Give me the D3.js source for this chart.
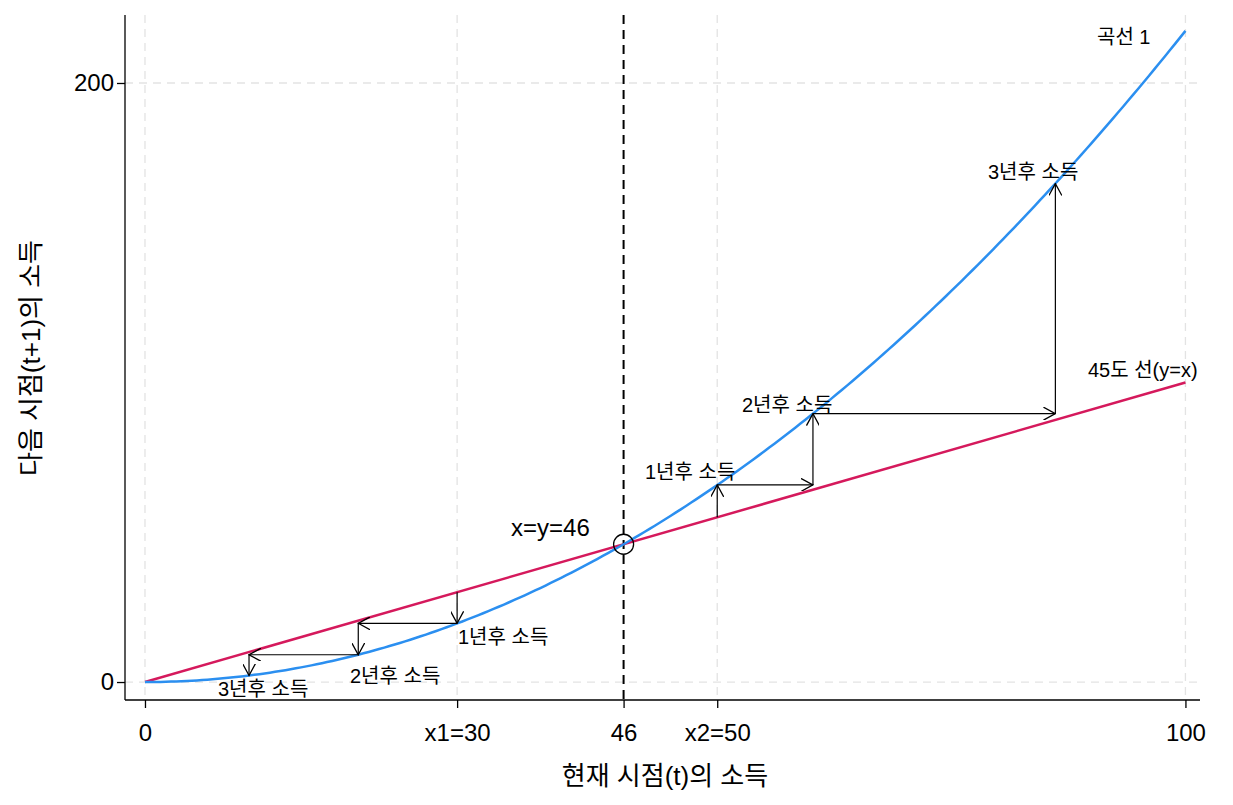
<!DOCTYPE html><html><head><meta charset="utf-8">
<script src="https://cdn.jsdelivr.net/npm/d3@7"></script>
<style>body{margin:0;background:#fff}text{font-family:Arial,"Liberation Sans","Noto Sans CJK KR",sans-serif}</style>
</head><body><svg id="c" width="1233" height="805"></svg><script>
const xTicks=[0,30,46,55,100];
const xTickLabels=["0","x1=30","46","x2=50","100"];
const yTicks=[0,200];
const curveK=46; // curve y = x^2/46
const lowPath=[[30,30],[30,19.6],[20.5,19.6],[20.5,9.1],[10,9.1],[10,2.2]];
const highPath=[[55,55],[55,65.8],[64.2,65.8],[64.2,89.6],[87.5,89.6],[87.5,166.4]];
const svg=d3.select("#c");
const x=d3.scaleLinear().domain([-1.92,101.4]).range([125,1200]);
const y=d3.scaleLinear().domain([-6,222.7]).range([700,15]);
svg.append("defs").append("marker").attr("id","ah").attr("viewBox","0 0 12 12").attr("refX",11).attr("refY",6)
 .attr("markerWidth",13).attr("markerHeight",13).attr("markerUnits","userSpaceOnUse").attr("orient","auto")
 .append("path").attr("d","M0,0L11,6L0,12").attr("fill","none").attr("stroke","#000").attr("stroke-width",1.2);
xTicks.forEach(t=>{if(t!==46)svg.append("line").attr("x1",x(t)).attr("x2",x(t)).attr("y1",15).attr("y2",700).attr("stroke","#e3e3e3").attr("stroke-dasharray","8,6").attr("stroke-width",1.3);});
yTicks.forEach(t=>svg.append("line").attr("x1",125).attr("x2",1200).attr("y1",y(t)).attr("y2",y(t)).attr("stroke","#e3e3e3").attr("stroke-dasharray","8,6").attr("stroke-width",1.3));
svg.append("line").attr("x1",x(46)).attr("x2",x(46)).attr("y1",15).attr("y2",700).attr("stroke","#000").attr("stroke-dasharray","9,6").attr("stroke-width",2);
const xa=svg.append("g").attr("transform","translate(0,700)").call(d3.axisBottom(x).tickValues(xTicks).tickFormat((d,i)=>xTickLabels[i]).tickSize(8).tickSizeOuter(0));
xa.select(".domain").attr("d","M125,0H1200");
const ya=svg.append("g").attr("transform","translate(125,0)").call(d3.axisLeft(y).tickValues(yTicks).tickSize(8).tickSizeOuter(0));
ya.select(".domain").attr("d","M0,15V700");
svg.selectAll(".tick text").attr("font-size",24).attr("fill","#000");
xa.selectAll(".tick text").attr("dy","1.25em");
svg.selectAll(".domain,.tick line").attr("stroke","#000").attr("stroke-width",1.3);
const xs=d3.range(0,100.01,0.5);
svg.append("path").attr("d",d3.line().x(d=>x(d)).y(d=>y(d))([0,100])).attr("stroke","#d5195c").attr("stroke-width",2.5).attr("fill","none");
svg.append("path").attr("d",d3.line().x(d=>x(d)).y(d=>y(d*d/curveK))(xs)).attr("stroke","#2b8ff0").attr("stroke-width",2.5).attr("fill","none");
function arrows(p){for(let i=0;i<p.length-1;i++){svg.append("line").attr("x1",x(p[i][0])).attr("y1",y(p[i][1])).attr("x2",x(p[i+1][0])).attr("y2",y(p[i+1][1])).attr("stroke","#000").attr("stroke-width",1.2).attr("marker-end","url(#ah)");}}
arrows(lowPath);arrows(highPath);
svg.append("circle").attr("cx",x(46)).attr("cy",y(46)).attr("r",10).attr("fill","none").attr("stroke","#000").attr("stroke-width",1.3);
const T=(s,px,py,fs,a)=>svg.append("text").attr("x",px).attr("y",py).attr("font-size",fs||20).attr("text-anchor",a||"start").text(s);
T("1년후 소득",458,644);T("2년후 소득",350,683);T("3년후 소득",218,696);
T("1년후 소득",645,479);T("2년후 소득",742,412);T("3년후 소득",988,179);
T("곡선 1",1097,44);T("45도 선(y=x)",1088,377);T("x=y=46",511,536,24);
T("현재 시점(t)의 소득",665,785,26,"middle");
svg.append("text").attr("transform","translate(40,358) rotate(-90)").attr("text-anchor","middle").attr("font-size",26).text("다음 시점(t+1)의 소득");
</script></body></html>
